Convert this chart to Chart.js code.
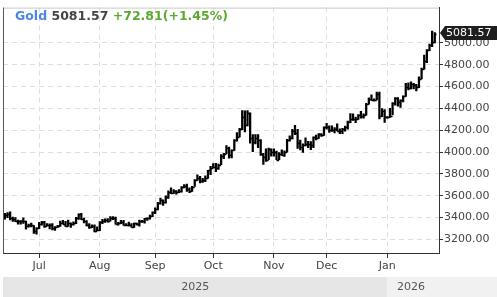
<!DOCTYPE html>
<html>
<head>
<meta charset="utf-8">
<script src="https://cdn.jsdelivr.net/npm/chart.js@4.4.1/dist/chart.umd.min.js"></script>
<style>
html, body { margin: 0; padding: 0; background: #fff; }
#wrap { width: 497px; height: 297px; }
</style>
</head>
<body>
<div id="wrap"><canvas id="goldChart" width="497" height="297"></canvas></div>
<script>
// ============ DATA ============

const seriesName = 'Gold';
const firstDay = '2025-06-12';
const lastDay = '2026-01-27';
const monthNames = ['Jan', 'Feb', 'Mar', 'Apr', 'May', 'Jun', 'Jul', 'Aug', 'Sep', 'Oct', 'Nov', 'Dec'];
const firstOpen = 3400;

const closes = [
    3420, 3433, 3395, 3388, 3370, 3369, 3368, 3368, 3323, 3333, 3328, 3274, 3303,
    3338, 3357, 3326, 3337, 3336, 3301, 3313, 3324, 3355, 3343, 3324, 3347, 3339, 3350, 3397, 3431, 3388, 3368, 3337, 3314, 3326, 3274, 3289,
    3363, 3373, 3380, 3369, 3396, 3398, 3342, 3348, 3356, 3336, 3336, 3332, 3315, 3348, 3339, 3372, 3365, 3393, 3397, 3416, 3448,
    3476, 3533, 3559, 3545, 3586, 3636, 3626, 3640, 3634, 3643, 3679, 3690, 3659, 3643, 3685, 3746, 3763, 3736, 3749, 3760, 3833, 3858,
    3866, 3857, 3886, 3960, 3985, 4040, 3976, 4018, 4110, 4142, 4208, 4326, 4250, 4356, 4125, 4095, 4126, 4112, 3982, 3952, 3930, 4025, 4002,
    4001, 3932, 3980, 3977, 4001, 4115, 4128, 4195, 4172, 4084, 4045, 4066, 4078, 4078, 4065, 4136, 4131, 4163, 4157, 4230,
    4232, 4204, 4206, 4208, 4197, 4190, 4208, 4229, 4278, 4300, 4304, 4303, 4339, 4332, 4339, 4445, 4491, 4480, 4480, 4532, 4332, 4373, 4319,
    4319, 4330, 4450, 4495, 4455, 4478, 4510, 4600, 4588, 4625, 4615, 4595, 4670, 4760, 4835, 4935, 4985, 5008.76, 5081.57
];

const highs = [
    3440, 3446, 3452, 3404, 3400, 3378, 3372, 3398, 3369, 3342, 3350, 3328, 3309,
    3358, 3366, 3365, 3345, 3344, 3346, 3317, 3330, 3369, 3375, 3366, 3377, 3352, 3361, 3402, 3434, 3439, 3396, 3373, 3345, 3334, 3334, 3315,
    3363, 3385, 3390, 3392, 3409, 3409, 3404, 3358, 3375, 3375, 3346, 3359, 3345, 3350, 3351, 3378, 3376, 3393, 3398, 3423, 3454,
    3489, 3540, 3578, 3563, 3600, 3646, 3674, 3658, 3647, 3658, 3685, 3703, 3707, 3674, 3687, 3749, 3791, 3778, 3761, 3782, 3834, 3871,
    3895, 3897, 3890, 3977, 3990, 4059, 4046, 4022, 4116, 4180, 4218, 4380, 4379, 4381, 4360, 4160, 4160, 4161, 4115, 3990, 4030, 4038, 4030,
    4030, 4010, 3995, 4020, 4012, 4118, 4150, 4210, 4245, 4210, 4110, 4075, 4132, 4100, 4097, 4140, 4157, 4170, 4170, 4232,
    4264, 4240, 4242, 4225, 4260, 4214, 4218, 4238, 4285, 4354, 4350, 4320, 4344, 4374, 4350, 4448, 4497, 4526, 4488, 4550, 4550, 4400, 4390,
    4325, 4402, 4455, 4500, 4500, 4480, 4515, 4630, 4635, 4643, 4630, 4620, 4690, 4770, 4888, 4940, 4990, 5110, 5095
];

const lows = [
    3385, 3400, 3380, 3366, 3363, 3340, 3340, 3348, 3295, 3312, 3315, 3255, 3248,
    3300, 3331, 3311, 3323, 3296, 3287, 3282, 3310, 3320, 3342, 3320, 3319, 3310, 3332, 3344, 3383, 3381, 3351, 3325, 3302, 3308, 3268, 3281,
    3281, 3345, 3356, 3358, 3370, 3381, 3341, 3332, 3344, 3330, 3333, 3324, 3312, 3311, 3330, 3322, 3356, 3350, 3375, 3387, 3409,
    3436, 3470, 3524, 3511, 3533, 3577, 3619, 3620, 3614, 3629, 3634, 3673, 3640, 3628, 3640, 3685, 3740, 3718, 3722, 3730, 3760, 3793,
    3856, 3820, 3841, 3885, 3940, 3985, 3944, 3947, 4015, 4100, 4140, 4205, 4185, 4240, 4082, 4004, 4075, 4040, 3970, 3887, 3915, 3930, 3962,
    3962, 3930, 3930, 3970, 3960, 4000, 4100, 4120, 4160, 4033, 4020, 3997, 4056, 4040, 4022, 4040, 4111, 4125, 4145, 4154,
    4210, 4180, 4190, 4175, 4195, 4170, 4170, 4192, 4210, 4270, 4290, 4270, 4300, 4310, 4310, 4339, 4440, 4473, 4468, 4478, 4305, 4325, 4272,
    4310, 4318, 4340, 4430, 4420, 4410, 4460, 4510, 4570, 4580, 4580, 4560, 4590, 4670, 4760, 4820, 4930, 4965, 5000
];

const yTicks = [3200, 3400, 3600, 3800, 4000, 4200, 4400, 4600, 4800, 5000];
const yMin = 3076;
const yMax = 5324;

// ============ DERIVED ============

function tradingDays(from, to) {
    const out = [];
    const d = new Date(from + 'T00:00:00Z');
    const end = new Date(to + 'T00:00:00Z');
    while (d <= end) {
        const wd = d.getUTCDay();
        if (wd !== 0 && wd !== 6) out.push(d.toISOString().slice(0, 10));
        d.setUTCDate(d.getUTCDate() + 1);
    }
    return out;
}

const days = tradingDays(firstDay, lastDay);
const opens = closes.map((c, i) => (i === 0 ? firstOpen : closes[i - 1]));
const monthStarts = [];
days.forEach((d, i) => {
    if (i > 0 && d.slice(5, 7) !== days[i - 1].slice(5, 7)) monthStarts.push(i);
});
const yearStart = days.findIndex(d => d.slice(0, 4) !== days[0].slice(0, 4));

const last = closes[closes.length - 1];
const change = last - closes[closes.length - 2];
const changePct = change / closes[closes.length - 2] * 100;

const FONT = '"DejaVu Sans", Verdana, sans-serif';

// ============ PLUGINS ============

const background = {
    id: 'background',
    beforeDraw(chart) {
        const { ctx, width, height } = chart;
        ctx.save();
        ctx.fillStyle = '#fff';
        ctx.fillRect(0, 0, width, height);
        ctx.restore();
    }
};

// open / close ticks for every OHLC bar
const ohlcTicks = {
    id: 'ohlcTicks',
    afterDatasetsDraw(chart) {
        const { ctx, chartArea, scales: { x, y } } = chart;
        ctx.save();
        ctx.beginPath();
        ctx.rect(chartArea.left, chartArea.top, chartArea.width, chartArea.height);
        ctx.clip();
        ctx.strokeStyle = '#000';
        ctx.lineWidth = 1.4;
        ctx.beginPath();
        closes.forEach((c, i) => {
            const px = x.getPixelForValue(i);
            const yo = Math.round(y.getPixelForValue(opens[i])) + 0.5;
            const yc = Math.round(y.getPixelForValue(c)) + 0.5;
            ctx.moveTo(px - 1.8, yo); ctx.lineTo(px, yo);
            ctx.moveTo(px, yc); ctx.lineTo(px + 1.8, yc);
        });
        ctx.stroke();
        ctx.restore();
    }
};

const overlay = {
    id: 'overlay',
    afterDraw(chart) {
        const { ctx, chartArea, width, height, scales: { x, y } } = chart;
        ctx.save();

        // frame left / top
        ctx.strokeStyle = '#c8c8c8';
        ctx.lineWidth = 1;
        ctx.beginPath();
        ctx.moveTo(chartArea.left, chartArea.top + 0.5);
        ctx.lineTo(chartArea.right, chartArea.top + 0.5);
        ctx.stroke();
        ctx.strokeStyle = '#555';
        ctx.beginPath();
        ctx.moveTo(chartArea.left + 0.5, chartArea.top);
        ctx.lineTo(chartArea.left + 0.5, chartArea.bottom);
        ctx.stroke();

        // title
        ctx.font = 'bold 12.5px ' + FONT;
        ctx.textBaseline = 'middle';
        ctx.textAlign = 'left';
        const parts = [
            [seriesName + ' ', '#4a86e8'],
            [last.toFixed(2) + ' ', '#444'],
            ['+' + change.toFixed(2) + '(+' + changePct.toFixed(2) + '%)', '#5aa92e']
        ];
        let tx = 15;
        parts.forEach(([t, c]) => {
            ctx.fillStyle = c;
            ctx.fillText(t, tx, 17);
            tx += ctx.measureText(t).width;
        });

        // last price marker
        const yp = Math.round(y.getPixelForValue(last)) - 1;
        const ax = chartArea.right + 1;
        ctx.fillStyle = '#1e1e1e';
        ctx.beginPath();
        ctx.moveTo(ax, yp);
        ctx.lineTo(ax + 5, yp - 7);
        ctx.lineTo(width, yp - 7);
        ctx.lineTo(width, yp + 7);
        ctx.lineTo(ax + 5, yp + 7);
        ctx.closePath();
        ctx.fill();
        ctx.fillStyle = '#fff';
        ctx.font = '11px ' + FONT;
        ctx.fillText(last.toFixed(2), ax + 6, yp + 0.5);

        // year band
        const bandTop = height - 20;
        const yearPx = x.getPixelForValue(yearStart);
        const lastPx = x.getPixelForValue(closes.length - 1);
        ctx.fillStyle = '#e6e6e6';
        ctx.fillRect(chartArea.left, bandTop, yearPx - chartArea.left, 20);
        ctx.fillStyle = '#f1f1f1';
        ctx.fillRect(yearPx, bandTop, width - yearPx, 20);
        ctx.fillStyle = '#555';
        ctx.font = '11px ' + FONT;
        ctx.textAlign = 'center';
        ctx.fillText(days[0].slice(0, 4), (chartArea.left + yearPx) / 2, bandTop + 10.5);
        ctx.fillText(days[yearStart].slice(0, 4), (yearPx + lastPx) / 2, bandTop + 10.5);

        ctx.restore();
    }
};

// ============ CHART ============

const hlBars = days.map((d, i) => ({ x: i, y: [lows[i], highs[i]] }));

const ctx = document.getElementById('goldChart').getContext('2d');
const chart = new Chart(ctx, {
    type: 'bar',
    data: {
        datasets: [{
            label: seriesName,
            data: hlBars,
            backgroundColor: '#000',
            borderWidth: 0,
            barThickness: 1.6,
            grouped: false
        }]
    },
    options: {
        responsive: false,
        animation: false,
        devicePixelRatio: 1,
        layout: { padding: { left: 3, top: 3, right: 0, bottom: 0 } },
        plugins: {
            legend: { display: false },
            tooltip: { enabled: false }
        },
        scales: {
            x: {
                type: 'linear',
                position: 'bottom',
                min: -0.7,
                max: 164.6,
                offset: false,
                afterBuildTicks: s => { s.ticks = monthStarts.map(i => ({ value: i })); },
                afterFit: s => { s.height = 44; },
                ticks: {
                    autoSkip: false,
                    maxRotation: 0,
                    padding: 2,
                    color: '#444',
                    font: { family: FONT, size: 11 },
                    callback: v => monthNames[parseInt(days[v].slice(5, 7), 10) - 1]
                },
                grid: { offset: false, color: '#dedede', tickColor: '#333', tickLength: 5 },
                border: { color: '#333', dash: [5, 4] }
            },
            y: {
                position: 'right',
                min: yMin,
                max: yMax,
                afterBuildTicks: s => { s.ticks = yTicks.map(v => ({ value: v })); },
                afterFit: s => { s.width = 58; },
                ticks: {
                    padding: 1,
                    color: '#444',
                    font: { family: FONT, size: 11 },
                    callback: v => v.toFixed(2)
                },
                grid: { color: '#dedede', tickColor: '#333', tickLength: 4 },
                border: { color: '#333', dash: [5, 4] }
            }
        }
    },
    plugins: [background, ohlcTicks, overlay]
});
</script>
</body>
</html>
